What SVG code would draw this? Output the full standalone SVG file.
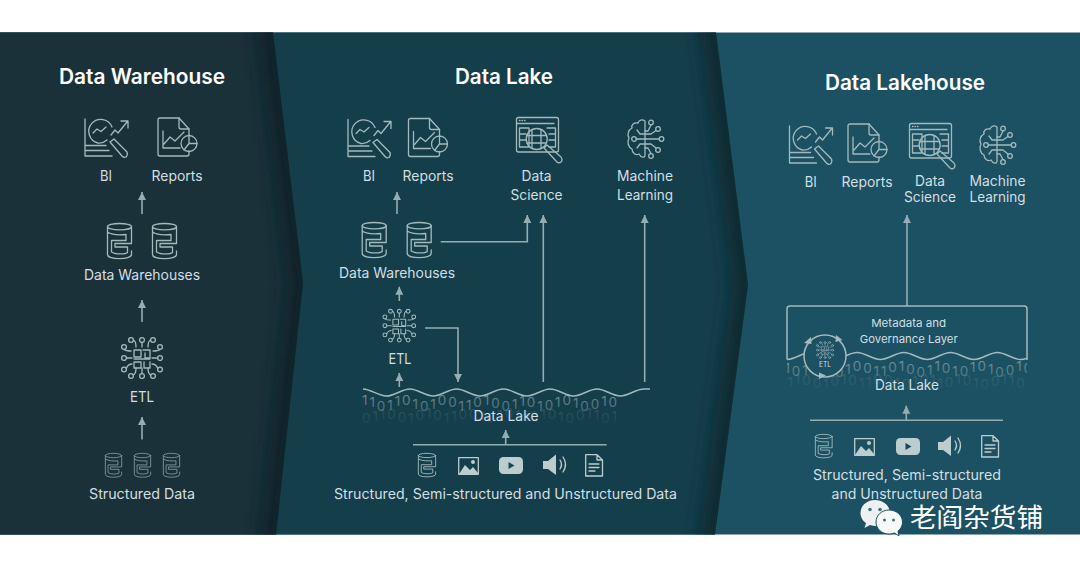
<svg xmlns="http://www.w3.org/2000/svg" width="1080" height="567" viewBox="0 0 1080 567">
<style>
text{font-family:"Inter","Noto Sans","Liberation Sans",sans-serif;text-anchor:middle;fill:#d3dfe1;font-size:14px}
.title{fill:#fff;font-size:21px;font-weight:600}
.ic{fill:none;stroke:#a3babd;stroke-width:1.3;stroke-linecap:round;stroke-linejoin:round}
.dim{opacity:.75}
.fl{fill:#bccdd0;stroke:none}
.cn{fill:none;stroke:#94adb1;stroke-width:1.6}
.bit{font-size:13.5px;letter-spacing:1.9px;text-anchor:start}
.wave{fill:none;stroke:#a3babd;stroke-width:1.5}
</style>
<defs>
<marker id="ah" markerUnits="userSpaceOnUse" markerWidth="9" markerHeight="9" refX="8" refY="4.5" orient="auto"><path d="M0,0.5 L8,4.5 L0,8.5 Z" fill="#94adb1"/></marker>
<linearGradient id="bf1" x1="0" y1="0" x2="0" y2="1"><stop offset="0" stop-color="#a3babd" stop-opacity=".65"/><stop offset="1" stop-color="#a3babd" stop-opacity=".3"/></linearGradient>
<linearGradient id="bf2" x1="0" y1="0" x2="0" y2="1"><stop offset="0" stop-color="#a3babd" stop-opacity=".2"/><stop offset="1" stop-color="#a3babd" stop-opacity=".04"/></linearGradient>
<filter id="bl" filterUnits="userSpaceOnUse" x="200" y="-50" width="600" height="700"><feGaussianBlur stdDeviation="9"/></filter>
<clipPath id="c1"><polygon points="0,32.5 273,32.5 303,283 276,534.5 0,534.5"/></clipPath>
<clipPath id="c2"><polygon points="270,32.5 716,32.5 748,285 715,534.5 270,534.5"/></clipPath>
<clipPath id="c3"><rect x="787" y="340" width="240" height="55"/></clipPath>
<path id="wv" class="wave" d="M363,389 C371,389 378,396 386.4,396 S401.6,389 409.8,389 S425,396 433.2,396 S448.4,389 456.6,389 S471.8,396 480,396 S495.2,389 503.4,389 S518.6,396 526.8,396 S542,389 550.2,389 S565.4,396 573.6,396 S588.8,389 597,389 S612.2,396 620.4,396 S635.6,389 643.8,389 L650,389"/>
<g id="bits">
<text class="bit" x="362" y="405 407.3 410.7 409.9 406.2 405.2 408.5 411 408.9 405.4 407 410.5 410 406.5 405 408 411 409 405.5 407 410.5 410 406.5 405 408 411 409 405.5 407" style="fill:url(#bf1)">11011010100110100110101010010</text>
<text class="bit" x="362" y="423 421 418.5 419 422 423 420 418 419.5 422.5 421 418.5 419 422 423 420 418 419.5 422.5 421 418.5 419 422 423 420 418 419.5 422.5 421" style="fill:url(#bf2)">01100101011001010110101001101</text>
</g>
<g id="bi" class="ic"><path d="M0,0 V37 H27 M0,31.5 H24 M0,26.5 H21"/><path d="M27,8 A12,12 0 1 0 13,24 A12,12 0 0 0 22,21"/><path d="M8,14 L12,10 L16,12.5 L21,8 M26,16 L30,11 L33,14 L42,3 M36,2 H43 V9"/><path d="M25,23 L29,20 L42,33 Q43,36 41,38 Q39,39 37,37 Z"/></g>
<g id="rp" class="ic"><path d="M31,17 V11 L21,0 H2 Q0,0 0,2 V36 Q0,38 2,38 H29 Q31,38 31,36 V33"/><path d="M21,0 V9 Q21,11 23,11 H31"/><path d="M5,13 V30 H22 M6,26 L12,19 L17,23 L26,14"/><circle cx="31" cy="25.5" r="8"/><path d="M31,17.5 V25.5 H39 M31,25.5 L26,32"/></g>
<g id="cy" class="ic"><ellipse cx="12.5" cy="3.7" rx="12" ry="3.2"/><path d="M.5,3.7 V31.5 C.5,37 24.5,37 24.5,31.5 V28 M.5,9 C5,12 14,12 19,11.5 V17.5 H4.5 V29 C8,31.5 18,31.5 20.5,29.5 V24 H8 V20.5 H24.5 V3.7"/></g>
<g id="etl" class="ic"><circle cx="0" cy="-19" r="2.4"/><circle cx="-11" cy="-19" r="2.4"/><circle cx="11" cy="-19" r="2.4"/><circle cx="-18" cy="-12" r="2.4"/><circle cx="18" cy="-12" r="2.4"/><circle cx="-18" cy="-1" r="2.4"/><circle cx="18" cy="-1" r="2.4"/><circle cx="-18" cy="10.5" r="2.4"/><circle cx="18" cy="10.5" r="2.4"/><circle cx="-11" cy="17" r="2.4"/><circle cx="0" cy="17" r="2.4"/><circle cx="11" cy="17" r="2.4"/><path d="M0,-16.5 V-12 M-8.6,-19 Q-6,-18 -6,-12 M8.6,-19 Q6,-18 6,-12 M-18,-9.6 Q-16,-8 -11,-8 M18,-9.6 Q16,-8 11,-8 M-15.6,-1 H-10 M15.6,-1 H10 M-15.8,9.5 Q-14,5 -10,5 M15.8,9.5 Q14,5 10,5 M0,14.6 V9 M-8.8,16 Q-6,15 -6,9 M8.8,16 Q6,15 6,9"/><rect x="-8" y="-9" width="7" height="7"/><path d="M1,-9 H8 V-1 H3 V-6 M-8,0 H8 M-8,3 H-1 V9 H-8 Z M2,3 V9 H8 V3"/></g>
<g id="ds" class="ic"><rect x=".5" y=".5" width="42" height="34.5" rx="2"/><path d="M.5,6.5 H38 M3.5,3.5 H4 M6,3.5 H6.5 M8.5,3.5 H9 M3.5,11 H13 V30 H3.5 Z M3.5,17 H10 M3.5,23 H10 M31,11 H39.5 V30 H33 M33,17 H39.5 M33,23 H39.5"/><circle cx="20.7" cy="22" r="10.5"/><path d="M16,13 V31 M25,13 V31 M11,18.5 H30 M11,26 H30"/><path d="M28,31 L31,28 L45,40 Q47,43 45,45 Q43,46.5 41,45 Z"/></g>
<g id="ml" class="ic"><path d="M18,2 C15,0 12,1 11,4 C7,3 4,6 5,9 C1,11 0,16 2,19 C0,23 1,28 5,30 C5,34 9,37 12,35 C14,39 18,39 18,36 Z"/><circle cx="7" cy="20" r="2.3"/><path d="M9.3,20 H18 M10,11 L13,15 H18 M10,29 L13,25 H18 M18,20 H32 M18,12 H21 L24,6 M18,15 H24 L29,11.5 M18,25 H24 L29,29 M18,29 H21 L24,34.5"/><circle cx="24" cy="3.5" r="2.3"/><circle cx="31" cy="10" r="2.3"/><circle cx="34.5" cy="20" r="2.3"/><circle cx="31" cy="31" r="2.3"/><circle cx="24" cy="37" r="2.3"/></g>
<g id="im"><rect x=".7" y=".7" width="19.6" height="16.6" class="ic" style="stroke:#bccdd0"/><path class="fl" d="M1,17 L7,8 L12,13 L15,10 L20,16 V17 Z"/><circle class="fl" cx="15" cy="5" r="2"/></g>
<g id="yt"><rect class="fl" x="0" y="0" width="24" height="17" rx="4.5"/><path d="M9.5,5 L15.5,8.5 L9.5,12 Z" fill="#1b4756"/></g>
<g id="sp"><path class="fl" d="M0,7 H5 L13,0.5 V21 L5,15 H0 Z"/><path class="ic" d="M17,6 Q20,10.5 17,15 M20,3 Q25,10.5 20,18" style="stroke:#bccdd0"/></g>
<g id="dc" class="ic" style="stroke:#bccdd0"><path d="M.7,.7 H12 L17.5,6 V22 H.7 Z M12,.7 V6 H17.5 M4,10 H14 M4,13.5 H14 M4,17 H10"/></g>
</defs>

<rect id="panel3" x="0" y="32.5" width="1080" height="502" fill="#1c5163"/>
<g id="panel2"><polygon points="0,32.5 716,32.5 748,285 715,534.5 0,534.5" fill="#153e4b"/><g clip-path="url(#c2)"><polyline points="712,0 716,32.5 748,285 715,534.5 711,570" fill="none" stroke="#0f2a33" stroke-width="30" filter="url(#bl)"/></g></g>
<g id="panel1"><polygon points="0,32.5 273,32.5 303,283 276,534.5 0,534.5" fill="#1b313a"/><g clip-path="url(#c1)"><polyline points="269,0 273,32.5 303,283 276,534.5 272,570" fill="none" stroke="#10212a" stroke-width="30" filter="url(#bl)"/></g></g>

<g id="connectors">
<path class="cn" marker-end="url(#ah)" d="M142,214 V192"/>
<path class="cn" marker-end="url(#ah)" d="M142,322 V300"/>
<path class="cn" marker-end="url(#ah)" d="M142,439.5 V417"/>
<path class="cn" marker-end="url(#ah)" d="M397,214 V192"/>
<path class="cn" marker-end="url(#ah)" d="M440.7,241.7 H527.3 V215"/>
<path class="cn" marker-end="url(#ah)" d="M543.3,382 V215"/>
<path class="cn" marker-end="url(#ah)" d="M644.7,382 V215"/>
<path class="cn" marker-end="url(#ah)" d="M399.3,301 V286.7"/>
<path class="cn" marker-end="url(#ah)" d="M399.3,387 V373"/>
<path class="cn" marker-end="url(#ah)" d="M425,328 H458 V382"/>
<path class="cn" marker-end="url(#ah)" d="M505.7,444.7 V430"/>
<path class="cn" d="M413,444.7 H606.7"/>
<path class="cn" marker-end="url(#ah)" d="M907,306 V215"/>
<path class="cn" marker-end="url(#ah)" d="M906.3,420.3 V405.7"/>
<path class="cn" d="M810,420.3 H1003"/>
</g>

<g id="dw-panel"><text class="title" x="142" y="84" textLength="166" lengthAdjust="spacingAndGlyphs">Data Warehouse</text></g>
<g id="dw-bi"><use href="#bi" x="85" y="119"/><text x="106" y="181" textLength="12" lengthAdjust="spacingAndGlyphs">BI</text></g>
<g id="dw-reports"><use href="#rp" x="158" y="118"/><text x="177" y="181" textLength="51" lengthAdjust="spacingAndGlyphs">Reports</text></g>
<g id="dw-warehouses"><use href="#cy" x="107" y="223"/><use href="#cy" x="152" y="223"/><text x="142" y="280" textLength="116" lengthAdjust="spacingAndGlyphs">Data Warehouses</text></g>
<g id="dw-etl"><use href="#etl" transform="translate(142,359)"/><text x="142" y="401.5" textLength="24" lengthAdjust="spacingAndGlyphs">ETL</text></g>
<g id="dw-structured"><g class="dim"><use href="#cy" transform="translate(105,453) scale(.68)"/><use href="#cy" transform="translate(134,453) scale(.68)"/><use href="#cy" transform="translate(163,453) scale(.68)"/></g><text x="142" y="498.5" textLength="106" lengthAdjust="spacingAndGlyphs">Structured Data</text></g>

<g id="dl-panel"><text class="title" x="504" y="84" textLength="98" lengthAdjust="spacingAndGlyphs">Data Lake</text></g>
<g id="dl-bi"><use href="#bi" x="348" y="119.5"/><text x="369" y="181" textLength="12" lengthAdjust="spacingAndGlyphs">BI</text></g>
<g id="dl-reports"><use href="#rp" x="408.5" y="118.5"/><text x="428" y="181" textLength="51" lengthAdjust="spacingAndGlyphs">Reports</text></g>
<g id="dl-ds"><use href="#ds" x="516" y="117"/><text x="536.5" y="181" textLength="30" lengthAdjust="spacingAndGlyphs">Data</text><text x="536.5" y="200" textLength="52" lengthAdjust="spacingAndGlyphs">Science</text></g>
<g id="dl-ml"><use href="#ml" x="627" y="119"/><text x="645" y="181" textLength="56" lengthAdjust="spacingAndGlyphs">Machine</text><text x="645" y="200" textLength="56" lengthAdjust="spacingAndGlyphs">Learning</text></g>
<g id="dl-warehouses"><use href="#cy" x="361.7" y="222"/><use href="#cy" x="406.7" y="222"/><text x="397" y="278" textLength="116" lengthAdjust="spacingAndGlyphs">Data Warehouses</text></g>
<g id="dl-etl"><use href="#etl" transform="translate(399.3,326.5) scale(.8)"/><text x="400" y="364" textLength="23" lengthAdjust="spacingAndGlyphs">ETL</text></g>
<g id="dl-lake"><use href="#bits"/><use href="#wv"/><text x="506" y="420.7" textLength="65" lengthAdjust="spacingAndGlyphs">Data Lake</text></g>
<g id="dl-sources"><use href="#cy" transform="translate(418,453) scale(.72,.67)"/><use href="#im" x="458" y="457"/><use href="#yt" x="499" y="457"/><use href="#sp" x="543" y="454"/><use href="#dc" x="585" y="454"/><text x="505.5" y="498.5" textLength="343" lengthAdjust="spacingAndGlyphs">Structured, Semi-structured and Unstructured Data</text></g>

<g id="lh-panel"><text class="title" x="905" y="90" textLength="160" lengthAdjust="spacingAndGlyphs">Data Lakehouse</text></g>
<g id="lh-bi"><use href="#bi" x="789.5" y="126"/><text x="810.7" y="187" textLength="12" lengthAdjust="spacingAndGlyphs">BI</text></g>
<g id="lh-reports"><use href="#rp" x="848" y="124"/><text x="867" y="187" textLength="51" lengthAdjust="spacingAndGlyphs">Reports</text></g>
<g id="lh-ds"><use href="#ds" x="909" y="123"/><text x="930" y="186" textLength="30" lengthAdjust="spacingAndGlyphs">Data</text><text x="930" y="202" textLength="52" lengthAdjust="spacingAndGlyphs">Science</text></g>
<g id="lh-ml"><use href="#ml" x="979" y="125"/><text x="997.5" y="186" textLength="56" lengthAdjust="spacingAndGlyphs">Machine</text><text x="997.5" y="202" textLength="56" lengthAdjust="spacingAndGlyphs">Learning</text></g>
<g id="lh-lake">
<g clip-path="url(#c3)"><use href="#bits" x="415" y="-34.5"/><use href="#wv" x="400.4" y="-36.5"/></g>
<path class="wave" d="M787,359.5 V309 Q787,306 790,306 H1024 Q1027,306 1027,309 V360"/>
<text x="908.7" y="327" style="font-size:11px" textLength="75" lengthAdjust="spacingAndGlyphs">Metadata and</text>
<text x="908.7" y="342.7" style="font-size:11px" textLength="98" lengthAdjust="spacingAndGlyphs">Governance Layer</text>
<circle cx="825" cy="356" r="21" fill="#1c5163" stroke="#a3babd" stroke-width="1.5"/>
<path d="M819,372.5 L826,375.5 L819,379 Z M804,343 L811,337 L811.5,344 Z M836,335 L842.5,340 L835.5,342 Z" fill="#a3babd"/>
<use href="#etl" transform="translate(825,350.5) scale(.42)"/>
<text x="825" y="366.6" style="font-size:7px" textLength="12" lengthAdjust="spacingAndGlyphs">ETL</text>
<text x="907" y="390" textLength="64" lengthAdjust="spacingAndGlyphs">Data Lake</text>
</g>
<g id="lh-sources"><use href="#cy" transform="translate(815,434) scale(.7,.67)"/><use href="#im" x="854" y="438"/><use href="#yt" x="896" y="438"/><use href="#sp" x="938" y="435"/><use href="#dc" x="981" y="435"/><text x="907" y="480" textLength="188" lengthAdjust="spacingAndGlyphs">Structured, Semi-structured</text><text x="907" y="499" textLength="151" lengthAdjust="spacingAndGlyphs">and Unstructured Data</text></g>

<g id="watermark">
<path d="M875,500 C866.5,500 860.5,506 860.5,513 C860.5,517.5 863,521 866,523 L864.5,528 L870,525 C872,525.7 874,526 876,526 C880,526 890,522 890,513 C890,506 883.5,500 875,500 Z" fill="#eef1f1"/>
<path d="M889,510 C881.5,510 876,515.5 876,522 C876,528.5 881.5,534 889,534 C891,534 893,533.6 894.5,533 L899,536 L898,531 C901,529 902.5,525.5 902.5,522 C902.5,515.5 896.5,510 889,510 Z" fill="#f7f8f8" stroke="#1c5163" stroke-width="1"/>
<circle cx="870" cy="509.5" r="1.8" fill="#4a6c78"/><circle cx="880" cy="509.5" r="1.8" fill="#4a6c78"/><circle cx="884.5" cy="520" r="1.5" fill="#4a6c78"/><circle cx="893.5" cy="520" r="1.5" fill="#4a6c78"/>
<text x="976.5" y="527" style="font-family:'Noto Sans CJK SC','Noto Sans',sans-serif;font-size:26.6px;fill:#fff">老阎杂货铺</text>
</g>
</svg>
